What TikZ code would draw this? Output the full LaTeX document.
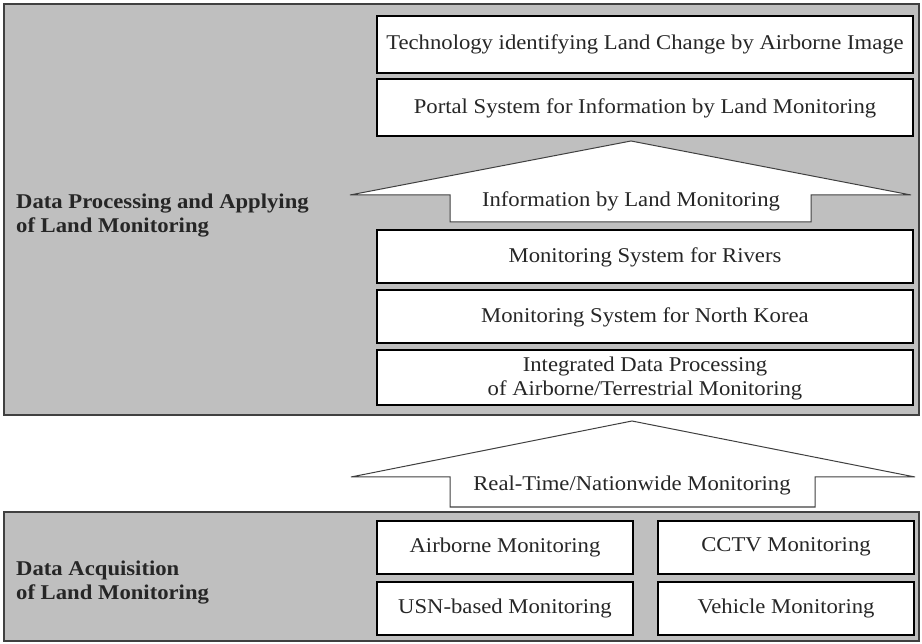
\documentclass[tikz,border=0pt]{standalone}
\usepackage{fontspec}
\setmainfont[FakeStretch=1.08]{Liberation Serif}
\begin{document}
\begin{tikzpicture}[x=1pt,y=-1pt,
  panel/.style={draw=black!75, line width=1.6pt, fill=black!25},
  box/.style={draw=black, line width=2pt, fill=white, align=center, inner sep=0pt,
    text=black!85, font=\fontsize{21}{24}\selectfont},
  widebox/.style={box, minimum width=536pt},
  smallbox/.style={box, minimum width=256pt, minimum height=53pt},
  bigarrow/.style={draw=black!75, line width=1pt, fill=white, line join=miter},
  arrowtext/.style={text=black!85, font=\fontsize{21}{24}\selectfont, inner sep=0pt},
  layer/.style={anchor=west, align=left, inner sep=0pt, text=black!85,
    font=\fontsize{21}{24}\selectfont\bfseries}]
\useasboundingbox (0,0) rectangle (922,644);

% upper layer: processing and applying
\draw[panel] (4,4) rectangle (919,415);
\node[layer] (proc) at (16,216) {Data Processing and Applying\\of Land Monitoring};

\node[widebox, minimum height=57pt] (tech)   at (645,44.5) {Technology identifying Land Change by Airborne Image};
\node[widebox, minimum height=57pt] (portal) at (645,108)  {Portal System for Information by Land Monitoring};
\node[widebox, minimum height=53pt] (rivers) at (645,257)  {Monitoring System for Rivers};
\node[widebox, minimum height=53pt] (nk)     at (645,317)  {Monitoring System for North Korea};
\node[widebox, minimum height=55pt] (integ)  at (645,378)  {Integrated Data Processing\\of Airborne/Terrestrial Monitoring};

% block arrow between the integration boxes and the portal
\coordinate (a1tip) at (631,141);
\draw[bigarrow] (350,195) -- (a1tip) -- (911,195) -- (811,195) -- (811,222)
  -- (450,222) -- (450,195) -- cycle;
\node[arrowtext] (info) at (631,201) {Information by Land Monitoring};

% block arrow between the two layers
\coordinate (a2tip) at (632,421);
\draw[bigarrow] (351,477) -- (a2tip) -- (915,477) -- (815,477) -- (815,507)
  -- (450,507) -- (450,477) -- cycle;
\node[arrowtext] (rt) at (632,485) {Real-Time/Nationwide Monitoring};

% lower layer: data acquisition
\draw[panel] (4,512) rectangle (919,641);
\node[layer] (acq) at (16,583) {Data Acquisition\\of Land Monitoring};

\node[smallbox] (air)  at (505,547)   {Airborne Monitoring};
\node[smallbox] (cctv) at (786,547)   {CCTV Monitoring};
\node[smallbox] (usn)  at (505,608.5) {USN-based Monitoring};
\node[smallbox] (veh)  at (786,608.5) {Vehicle Monitoring};
\end{tikzpicture}
\end{document}
